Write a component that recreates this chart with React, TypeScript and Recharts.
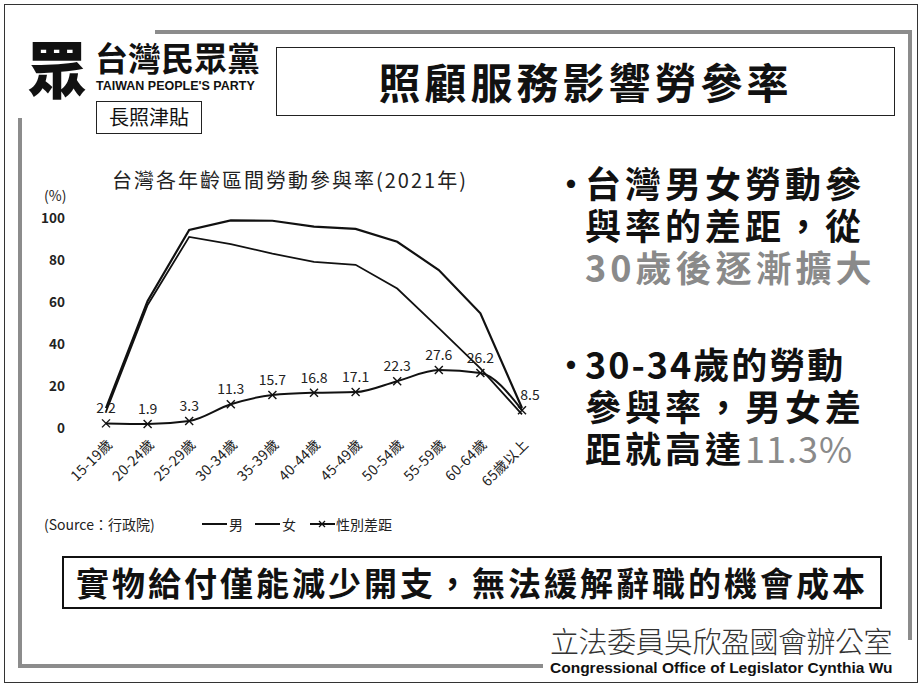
import React from "react";
import { LineChart, Line, XAxis, YAxis, LabelList } from "recharts";

// 年齡區間
const ageGroups = [
  "15-19歲",
  "20-24歲",
  "25-29歲",
  "30-34歲",
  "35-39歲",
  "40-44歲",
  "45-49歲",
  "50-54歲",
  "55-59歲",
  "60-64歲",
  "65歲以上",
];
// 男 / 女 勞動參與率 (%)
const maleRate = [9.5, 60.5, 94.3, 98.9, 98.7, 95.9, 94.8, 88.7, 75.2, 54.6, 9.5];
const femaleRate = [7.8, 58.6, 91.0, 87.6, 83.0, 79.1, 77.7, 66.4, 47.6, 28.4, 6.5];
// 性別差距 (圖上標示值)
const genderGap = [2.2, 1.9, 3.3, 11.3, 15.7, 16.8, 17.1, 22.3, 27.6, 26.2, 8.5];
const yTicks = [0, 20, 40, 60, 80, 100];

const data = ageGroups.map((age, i) => ({
  age,
  male: maleRate[i],
  female: femaleRate[i],
  gap: genderGap[i],
}));

const FONT = '"Noto Sans CJK TC", "Noto Sans", sans-serif';
const GRAY_TXT = "#8a8a8a";

function CrossDot(props: any) {
  const { cx, cy } = props;
  if (cx == null || cy == null) return null;
  const s = 4;
  return (
    <g stroke="#111" strokeWidth={1.4}>
      <line x1={cx - s} y1={cy - s} x2={cx + s} y2={cy + s} />
      <line x1={cx - s} y1={cy + s} x2={cx + s} y2={cy - s} />
    </g>
  );
}

function AgeTick(props: any) {
  const { x, y, payload } = props;
  const tx = x + 4;
  const ty = y + 6;
  return (
    <text
      x={tx}
      y={ty}
      transform={`rotate(-45, ${tx}, ${ty})`}
      textAnchor="end"
      dy="0.35em"
      fontSize={14}
      fill="#222"
      fontFamily={FONT}
      letterSpacing={0.3}
    >
      {payload.value}
    </text>
  );
}

function GapLabel(props: any) {
  const { x, y, value, index } = props;
  // 最後一點的標籤往右偏一點，避免壓到線
  const dx = index === genderGap.length - 1 ? 8 : 0;
  return (
    <text x={x + dx} y={y - 10} textAnchor="middle" fontSize={14} fill="#222" fontFamily={FONT}>
      {value}
    </text>
  );
}

const abs = (left: number, top: number, extra: React.CSSProperties = {}): React.CSSProperties => ({
  position: "absolute",
  left,
  top,
  whiteSpace: "nowrap",
  lineHeight: 1,
  ...extra,
});

const bigText: React.CSSProperties = {
  fontSize: 36,
  fontWeight: 700,
  lineHeight: "42px",
  letterSpacing: 4,
};

export default function App() {
  return (
    <div
      style={{
        position: "absolute",
        left: 0,
        top: 0,
        width: 923,
        height: 688,
        background: "#fff",
        overflow: "hidden",
        fontFamily: FONT,
        color: "#111",
      }}
    >
      {/* 外框 */}
      <div style={abs(4, 4, { width: 914, height: 679, border: "1.5px solid #333", boxSizing: "border-box" })} />
      {/* 灰色內框 */}
      <div style={abs(155, 30, { width: 757, height: 4, background: "#8c8c8c" })} />
      <div style={abs(908, 30, { width: 4, height: 610, background: "#8c8c8c" })} />
      <div style={abs(18, 118, { width: 4, height: 550, background: "#8c8c8c" })} />
      <div style={abs(18, 664, { width: 525, height: 4, background: "#8c8c8c" })} />

      {/* 標誌 */}
      <div style={abs(26, 36, { fontSize: 62, fontWeight: 900, transform: "scaleX(0.95)" })}>眾</div>
      <div style={abs(95, 41, { fontSize: 33, fontWeight: 700 })}>台灣民眾黨</div>
      <div
        style={abs(96, 80, {
          fontSize: 12.5,
          fontWeight: 700,
          fontFamily: '"Liberation Sans Narrow", "Liberation Sans", sans-serif',
        })}
      >
        TAIWAN PEOPLE'S PARTY
      </div>
      <div
        style={abs(96, 101, {
          width: 106,
          height: 33,
          border: "1.5px solid #222",
          boxSizing: "border-box",
          fontSize: 20,
          textAlign: "center",
          lineHeight: "30px",
        })}
      >
        長照津貼
      </div>

      {/* 標題框 */}
      <div
        style={abs(276, 47, {
          width: 619,
          height: 69,
          border: "1.5px solid #222",
          boxSizing: "border-box",
          fontSize: 42,
          fontWeight: 700,
          letterSpacing: 4,
          textAlign: "center",
          lineHeight: "66px",
        })}
      >
        照顧服務影響勞參率
      </div>

      {/* 圖表標題 */}
      <div style={abs(112, 170, { fontSize: 20, color: "#222", letterSpacing: 2 })}>
        台灣各年齡區間勞動參與率(2021年)
      </div>
      <div style={abs(44, 188, { fontSize: 14, color: "#222" })}>(%)</div>

      <div style={abs(0, 0)}>
        <LineChart
          width={560}
          height={520}
          data={data}
          margin={{ top: 218, right: 38, left: 66, bottom: 32 }}
        >
          <XAxis
            dataKey="age"
            axisLine={false}
            tickLine={false}
            interval={0}
            height={60}
            tick={<AgeTick />}
          />
          <YAxis
            domain={[0, 100]}
            ticks={yTicks}
            width={40}
            axisLine={false}
            tickLine={false}
            tickMargin={35}
            tick={{ fill: "#222", fontSize: 13.5, fontWeight: 600, fontFamily: FONT }}
          />
          <Line
            dataKey="male"
            type="linear"
            stroke="#111"
            strokeWidth={2.2}
            dot={false}
            isAnimationActive={false}
          />
          <Line
            dataKey="female"
            type="linear"
            stroke="#111"
            strokeWidth={1.8}
            dot={false}
            isAnimationActive={false}
          />
          <Line
            dataKey="gap"
            type="monotone"
            stroke="#111"
            strokeWidth={2}
            dot={<CrossDot />}
            isAnimationActive={false}
          >
            <LabelList dataKey="gap" content={<GapLabel />} />
          </Line>
        </LineChart>
      </div>

      {/* 來源與圖例 */}
      <div style={abs(44, 517, { fontSize: 14, color: "#222" })}>(Source：行政院)</div>
      <div style={abs(202, 517, { fontSize: 14, color: "#222", display: "flex", alignItems: "center" })}>
        <svg width={25} height={14}>
          <line x1={0} y1={7} x2={25} y2={7} stroke="#111" strokeWidth={2} />
        </svg>
        <span style={{ marginLeft: 2, marginRight: 12 }}>男</span>
        <svg width={25} height={14}>
          <line x1={0} y1={7} x2={25} y2={7} stroke="#111" strokeWidth={2} />
        </svg>
        <span style={{ marginLeft: 2, marginRight: 14 }}>女</span>
        <svg width={25} height={14}>
          <line x1={0} y1={7} x2={25} y2={7} stroke="#111" strokeWidth={2} />
          <line x1={9} y1={4} x2={15} y2={10} stroke="#111" strokeWidth={1.3} />
          <line x1={9} y1={10} x2={15} y2={4} stroke="#111" strokeWidth={1.3} />
        </svg>
        <span style={{ marginLeft: 1 }}>性別差距</span>
      </div>

      {/* 右側說明 */}
      <div style={abs(555, 166, { fontSize: 32, fontWeight: 700 })}>•</div>
      <div style={abs(585, 161, bigText)}>
        <div>台灣男女勞動參</div>
        <div>與率的差距，從</div>
        <div style={{ color: GRAY_TXT }}>30歲後逐漸擴大</div>
      </div>
      <div style={abs(555, 347, { fontSize: 32, fontWeight: 700 })}>•</div>
      <div style={abs(585, 342, bigText)}>
        <div style={{ letterSpacing: 2 }}>30-34歲的勞動</div>
        <div>參與率，男女差</div>
        <div>
          距就高達<span style={{ color: GRAY_TXT, fontWeight: 400, letterSpacing: 1 }}>11.3%</span>
        </div>
      </div>

      {/* 底部結論框 */}
      <div
        style={abs(62, 556, {
          width: 820,
          height: 53,
          border: "2.5px solid #111",
          boxSizing: "border-box",
          fontSize: 33,
          fontWeight: 700,
          letterSpacing: 3,
          textAlign: "center",
          lineHeight: "48px",
        })}
      >
        實物給付僅能減少開支，無法緩解辭職的機會成本
      </div>

      {/* 辦公室 */}
      <div style={abs(550, 626, { fontSize: 29, fontWeight: 300, color: "#333", letterSpacing: -0.5 })}>
        立法委員吳欣盈國會辦公室
      </div>
      <div
        style={abs(550, 660, {
          fontSize: 15.5,
          fontWeight: 700,
          fontFamily: '"Liberation Sans Narrow", "Liberation Sans", sans-serif',
          color: "#111",
        })}
      >
        Congressional Office of Legislator Cynthia Wu
      </div>
    </div>
  );
}
